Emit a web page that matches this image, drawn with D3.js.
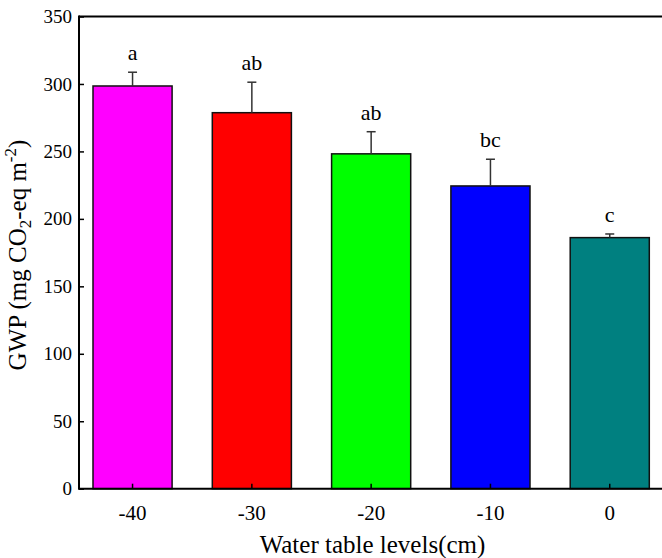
<!DOCTYPE html>
<html><head><meta charset="utf-8">
<script src="https://cdn.jsdelivr.net/npm/d3@7"></script>
<style>body{margin:0;background:#fff}svg{display:block}</style>
</head><body>
<svg id="c" width="662" height="558"></svg>
<script>
const categories = ["-40", "-30", "-20", "-10", "0"];
const values = [298.5, 278.7, 248.2, 224.4, 186.1];
const errors = [10.2, 22.6, 16.4, 19.8, 2.7];
const letters = ["a", "ab", "ab", "bc", "c"];
const colors = ["#FF00FF", "#FF0000", "#00FF00", "#0000FF", "#008080"];
const yTicks = [0, 50, 100, 150, 200, 250, 300, 350];

const svg = d3.select("#c");
const mLeft = 79, mRight = 662, mTop = 16.5, mBottom = 488.7;
const font = "'Liberation Serif', 'Times New Roman', serif";

const y = d3.scaleLinear().domain([0, 350]).range([mBottom, mTop]);
const x = d3.scaleBand().domain(categories).range([93, 649.3]).paddingInner(0.337).paddingOuter(0);

// bars
svg.selectAll("rect.bar").data(values).join("rect")
  .attr("class", "bar")
  .attr("x", (d, i) => x(categories[i]))
  .attr("width", x.bandwidth())
  .attr("y", d => y(d))
  .attr("height", d => y(0) - y(d))
  .attr("fill", (d, i) => colors[i])
  .attr("stroke", "#111").attr("stroke-width", 1.5);

// error bars
const eg = svg.append("g").attr("stroke", "#333").attr("stroke-width", 1.5);
values.forEach((v, i) => {
  const cx = x(categories[i]) + x.bandwidth() / 2;
  eg.append("line").attr("x1", cx).attr("x2", cx).attr("y1", y(v)).attr("y2", y(v + errors[i]));
  eg.append("line").attr("x1", cx - 4.5).attr("x2", cx + 4.5).attr("y1", y(v + errors[i])).attr("y2", y(v + errors[i]));
});

// letters
svg.selectAll("text.let").data(letters).join("text")
  .attr("class", "let")
  .attr("x", (d, i) => x(categories[i]) + x.bandwidth() / 2)
  .attr("y", (d, i) => y(values[i] + errors[i]) - 12)
  .attr("text-anchor", "middle")
  .attr("font-family", font).attr("font-size", 22)
  .text(d => d);

// y axis
const ya = svg.append("g").attr("transform", `translate(${mLeft},0)`)
  .call(d3.axisLeft(y).tickValues(yTicks).tickSizeInner(-5).tickSizeOuter(0).tickPadding(7));
ya.select(".domain").remove();
ya.selectAll(".tick line").attr("stroke", "#000").attr("stroke-width", 1.5);
ya.selectAll(".tick text").attr("font-family", font).attr("font-size", 19).attr("fill", "#000");

// x axis
const xa = svg.append("g").attr("transform", `translate(0,${mBottom})`)
  .call(d3.axisBottom(x).tickSizeInner(-5).tickSizeOuter(0).tickPadding(16));
xa.select(".domain").remove();
xa.selectAll(".tick line").attr("stroke", "#000").attr("stroke-width", 1.5);
xa.selectAll(".tick text").attr("font-family", font).attr("font-size", 21).attr("fill", "#000");

// frame lines
svg.append("line").attr("x1", mLeft).attr("x2", mRight).attr("y1", mTop).attr("y2", mTop).attr("stroke", "#000").attr("stroke-width", 2);
svg.append("line").attr("x1", mLeft).attr("x2", mRight).attr("y1", mBottom).attr("y2", mBottom).attr("stroke", "#000").attr("stroke-width", 2);
svg.append("line").attr("x1", mLeft).attr("x2", mLeft).attr("y1", mTop - 1).attr("y2", mBottom + 1).attr("stroke", "#000").attr("stroke-width", 2);

// x title
svg.append("text").attr("x", 372.5).attr("y", 553)
  .attr("text-anchor", "middle").attr("font-family", font).attr("font-size", 25)
  .text("Water table levels(cm)");

// y title
const yt = svg.append("text").attr("transform", `translate(26,255) rotate(-90)`)
  .attr("text-anchor", "middle").attr("font-family", font).attr("font-size", 25);
yt.append("tspan").text("GWP (mg CO");
yt.append("tspan").attr("font-size", 17).attr("dy", 5).text("2");
yt.append("tspan").attr("dy", -5).text("-eq m");
yt.append("tspan").attr("font-size", 17).attr("dy", -10).text("-2");
yt.append("tspan").attr("dy", 10).text(")");
</script>
</body></html>
